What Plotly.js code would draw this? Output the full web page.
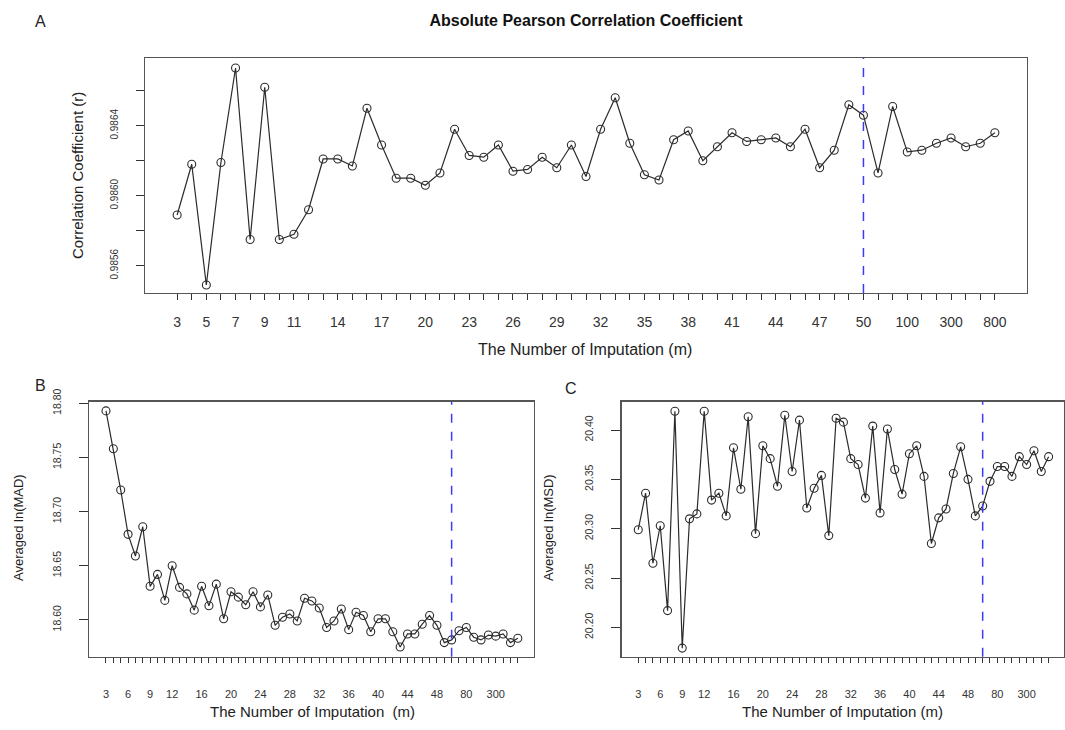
<!DOCTYPE html>
<html>
<head>
<meta charset="utf-8">
<script src="https://cdn.plot.ly/plotly-3.0.1.min.js"></script>
<style>html,body{margin:0;padding:0;background:#fff;}#chart{width:1065px;height:730px;}</style>
</head>
<body>
<div id="chart"></div>
<script>
// ---- data ----
const categories = ['3','4','5','6','7','8','9','10','11','12','13','14','15','16','17','18','19','20',
  '21','22','23','24','25','26','27','28','29','30','31','32','33','34','35','36','37','38','39','40',
  '41','42','43','44','45','46','47','48','49','50','60','80','100','150','200','300','400','600','800'];

const corrA = [0.98589,0.98618,0.98549,0.98619,0.98673,0.98575,0.98662,0.98575,0.98578,0.98592,
  0.98621,0.98621,0.98617,0.98650,0.98629,0.98610,0.98610,0.98606,0.98613,0.98638,
  0.98623,0.98622,0.98629,0.98614,0.98615,0.98622,0.98616,0.98629,0.98611,0.98638,
  0.98656,0.98630,0.98612,0.98609,0.98632,0.98637,0.98620,0.98628,0.98636,0.98631,
  0.98632,0.98633,0.98628,0.98638,0.98616,0.98626,0.98652,0.98646,
  0.98613,0.98651,0.98625,0.98626,0.98630,0.98633,0.98628,0.98630,0.98636];

const madB = [18.793,18.758,18.720,18.679,18.659,18.686,18.631,18.642,18.618,18.650,
  18.630,18.624,18.609,18.631,18.613,18.633,18.601,18.626,18.621,18.614,
  18.626,18.612,18.623,18.595,18.6025,18.6055,18.599,18.620,18.6175,18.611,
  18.593,18.599,18.610,18.591,18.607,18.604,18.589,18.601,18.601,18.589,
  18.575,18.587,18.587,18.596,18.604,18.595,18.579,18.5815,
  18.590,18.593,18.584,18.5815,18.586,18.585,18.587,18.579,18.583];

const msdC = [20.299,20.336,20.265,20.303,20.217,20.419,20.179,20.310,20.315,20.419,
  20.329,20.336,20.313,20.382,20.340,20.4135,20.295,20.384,20.371,20.343,
  20.415,20.358,20.410,20.321,20.341,20.354,20.293,20.412,20.408,20.371,
  20.365,20.331,20.404,20.316,20.401,20.360,20.335,20.376,20.384,20.353,
  20.285,20.311,20.320,20.356,20.383,20.350,20.313,20.323,
  20.348,20.363,20.363,20.353,20.373,20.365,20.379,20.358,20.373];

const labelsA = ['3','5','7','9','11','14','17','20','23','26','29','32','35','38','41','44','47','50','100','300','800'];
const labelsBC = ['3','6','9','12','16','20','24','28','32','36','40','44','48','80','300'];
const cutoff = '50';

const yTicksA = [0.9856,0.9858,0.9860,0.9862,0.9864,0.9866];
const yLabelsA = ['0.9856','','0.9860','','0.9864',''];
const yTicksB = [18.60,18.65,18.70,18.75,18.80];
const yLabelsB = ['18.60','18.65','18.70','18.75','18.80'];
const yTicksC = [20.20,20.25,20.30,20.35,20.40];
const yLabelsC = ['20.20','20.25','20.30','20.35','20.40'];

// ---- styling ----
const FONT = 'Liberation Sans, Arial, sans-serif';
const lineCol = '#2b2b2b';
const tickCol = '#333';

function series(y, xa, ya) {
  return {
    x: categories, y: y, xaxis: xa, yaxis: ya, type: 'scatter', mode: 'lines+markers',
    line: {color: lineCol, width: 1.2},
    marker: {symbol: 'circle-open', size: 8, color: lineCol, line: {width: 1.1, color: lineCol}},
    showlegend: false, hoverinfo: 'x+y'
  };
}

function xAxis(anchor, domain, range, shown, fsize, tlen, standoff) {
  return {
    type: 'category', domain: domain, range: range, anchor: anchor,
    tickmode: 'array', tickvals: categories,
    ticktext: categories.map(c => shown.includes(c) ? c : ''),
    ticks: 'outside', ticklen: tlen, tickwidth: 1, tickcolor: tickCol,
    ticklabelstandoff: standoff,
    tickfont: {family: FONT, size: fsize, color: '#333'},
    showline: true, mirror: true, linecolor: '#555', linewidth: 1.3,
    showgrid: false, zeroline: false, automargin: false, fixedrange: true
  };
}
function yAxis(anchor, domain, range, vals, text, fsize, tlen, standoff) {
  return {
    anchor: anchor, domain: domain, range: range,
    tickmode: 'array', tickvals: vals, ticktext: text, tickangle: -90,
    ticks: 'outside', ticklen: tlen, tickwidth: 1, tickcolor: tickCol,
    ticklabelstandoff: standoff,
    tickfont: {family: FONT, size: fsize, color: '#333'},
    showline: true, mirror: true, linecolor: '#555', linewidth: 1.3,
    showgrid: false, zeroline: false, automargin: false, fixedrange: true
  };
}

const W = 1065, H = 730;
const px = v => v / W, py = v => 1 - v / H;

const data = [
  series(corrA, 'x', 'y'),
  series(madB, 'x2', 'y2'),
  series(msdC, 'x3', 'y3')
];

const cutIdx = categories.indexOf(cutoff);
function vline(xref, yref) {
  return {type: 'line', xref: xref, yref: yref + ' domain', x0: cutIdx, x1: cutIdx, y0: 0, y1: 1,
    line: {color: '#3a3aff', width: 1.5, dash: 'dash'}};
}

function ann(text, x, y, size, angle, extra) {
  return Object.assign({text: text, xref: 'paper', yref: 'paper', x: px(x), y: py(y),
    xanchor: 'center', yanchor: 'middle', showarrow: false, textangle: angle || 0,
    font: {family: FONT, size: size, color: '#222'}}, extra || {});
}

const layout = {
  width: W, height: H,
  margin: {l: 0, r: 0, t: 0, b: 0},
  paper_bgcolor: '#fff', plot_bgcolor: '#fff',
  title: {text: '<b>Absolute Pearson Correlation Coefficient</b>', x: px(586), y: py(20),
    xanchor: 'center', yanchor: 'middle', xref: 'paper', yref: 'paper',
    font: {family: FONT, size: 16, color: '#111'}},
  xaxis: xAxis('y', [px(145), px(1027)], [-2.2, 58.2], labelsA, 14, 6, 10),
  yaxis: yAxis('x', [py(293), py(58)], [0.985444, 0.986787], yTicksA, yLabelsA, 10, 8, 14),
  xaxis2: xAxis('y2', [px(89.3), px(534)], [-2.27, 58.2], labelsBC, 11, 5, 22),
  yaxis2: yAxis('x2', [py(656.7), py(401.7)], [18.566, 18.8015], yTicksB, yLabelsB, 10.5, 9, 14),
  xaxis3: xAxis('y3', [px(621.7), px(1064)], [-2.26, 58.1], labelsBC, 11, 5, 22),
  yaxis3: yAxis('x3', [py(656.7), py(401.7)], [20.1703, 20.4287], yTicksC, yLabelsC, 10.5, 9, 14),
  shapes: [vline('x', 'y'), vline('x2', 'y2'), vline('x3', 'y3')],
  annotations: [
    ann('A', 40, 22, 16),
    ann('B', 40, 385, 16),
    ann('C', 571, 388, 16),
    ann('The Number of Imputation (m)', 585, 349, 16),
    ann('Correlation Coefficient (r)', 77, 176, 15, -90),
    ann('The Number of Imputation  (m)', 312, 711, 15),
    ann('Averaged ln(MAD)', 18, 528, 13, -90),
    ann('The Number of Imputation (m)', 843, 711, 15),
    ann('Averaged ln(MSD)', 548, 528, 13, -90)
  ]
};

Plotly.newPlot('chart', data, layout, {staticPlot: true, displayModeBar: false});
</script>
</body>
</html>
